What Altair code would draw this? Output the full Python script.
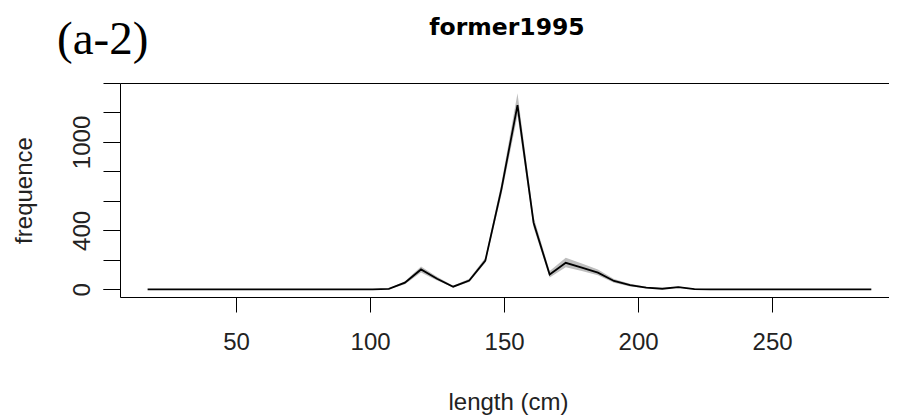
import altair as alt
import pandas as pd

# length classes (cm)
lengths = [17, 23, 29, 35, 41, 47, 53, 59, 65, 71, 77, 83, 89, 95, 101,
           107, 113, 119, 125, 131, 137, 143, 149, 155, 161, 167, 173, 179,
           185, 191, 197, 203, 209, 215, 221, 227, 233, 239, 245, 251, 257,
           263, 269, 275, 281, 287]
freq = [0, 0, 0, 0, 0, 0, 0, 0, 0, 0, 0, 0, 0, 0, 0,
        3, 45, 135, 72, 18, 60, 195, 680, 1250, 452, 100, 180, 147,
        113, 57, 28, 12, 4, 15, 2, 0, 0, 0, 0, 0, 0,
        0, 0, 0, 0, 0]
lower = [0, 0, 0, 0, 0, 0, 0, 0, 0, 0, 0, 0, 0, 0, 0,
         1, 35, 115, 60, 12, 50, 180, 640, 1180, 420, 80, 150, 125,
         95, 45, 20, 7, 2, 10, 0, 0, 0, 0, 0, 0, 0,
         0, 0, 0, 0, 0]
upper = [0, 0, 0, 0, 0, 0, 0, 0, 0, 0, 0, 0, 0, 0, 0,
         5, 55, 155, 85, 25, 72, 215, 720, 1330, 490, 125, 215, 175,
         135, 70, 38, 18, 7, 20, 5, 0, 0, 0, 0, 0, 0,
         0, 0, 0, 0, 0]

x_ticks = [50, 100, 150, 200, 250]
y_ticks = [0, 200, 400, 600, 800, 1000, 1200, 1400]
y_labels_shown = [0, 400, 1000]

df = pd.DataFrame({"length": lengths, "freq": freq, "lower": lower, "upper": upper})

# plot area is cut at the right page edge, as in the reference
x_scale = alt.Scale(domain=[6.7, 293.6], nice=False, zero=False)
y_scale = alt.Scale(domain=[-52, 1400], nice=False, zero=False)

TXT = "#222222"

bottom_axis = alt.Axis(
    orient="bottom", values=x_ticks, grid=False, format="d",
    domain=True, domainColor="black", domainWidth=1,
    tickColor="black", tickSize=15, tickWidth=1,
    labelFont="Liberation Sans", labelFontSize=24, labelColor=TXT,
    labelPadding=18, labelBaseline="top", labelFlush=False, labelOverlap=False,
    title="length (cm)", titleFont="Liberation Sans", titleFontSize=24,
    titleFontWeight="normal", titleColor=TXT,
    titleX=388, titleY=112, titleAlign="center", titleBaseline="alphabetic",
    zindex=1,
)
top_axis = alt.Axis(
    orient="top", grid=False, ticks=False, labels=False,
    domain=True, domainColor="black", domainWidth=1,
    title="former1995", titleFont="DejaVu Sans", titleFontSize=23.5,
    titleFontWeight="bold", titleColor="black",
    titleX=386.5, titleY=-48.7, titleAlign="center", titleBaseline="alphabetic",
    zindex=1,
)
# ticks at every 200, no labels
y_axis_ticks = alt.Axis(
    orient="left", values=y_ticks, grid=False, labels=False,
    domain=True, domainColor="black", domainWidth=1,
    tickColor="black", tickSize=17, tickWidth=1,
    title="frequence", titleFont="Liberation Sans", titleFontSize=24,
    titleFontWeight="normal", titleColor=TXT, titleAngle=270,
    titleX=-96, titleY=107, titleAlign="center", titleBaseline="middle",
    zindex=1,
)
# labels only where R printed them
y_axis_labels = alt.Axis(
    orient="left", values=y_labels_shown, grid=False, domain=False, format="d",
    tickColor="black", tickSize=17, tickWidth=1,
    labelFont="Liberation Sans", labelFontSize=24, labelColor=TXT,
    labelAngle=270, labelAlign="center", labelBaseline="alphabetic",
    labelPadding=14, labelOverlap=False, labelFlush=False,
    title=None, zindex=1,
)

base = alt.Chart(df)

band = base.mark_area(color="#BEBEBE", opacity=1).encode(
    x=alt.X("length:Q", scale=x_scale, axis=bottom_axis),
    y=alt.Y("lower:Q", scale=y_scale, axis=y_axis_ticks),
    y2="upper:Q",
)
line = base.mark_line(color="black", strokeWidth=1.8).encode(
    x=alt.X("length:Q", scale=x_scale, axis=top_axis),
    y=alt.Y("freq:Q", scale=y_scale, axis=y_axis_labels),
)
panel = alt.Chart(alt.InlineData(values=[{"panel": "(a-2)"}])).mark_text(
    font="Liberation Serif", fontSize=47, align="left", baseline="alphabetic",
    color="black",
).encode(text="panel:N", x=alt.value(-63), y=alt.value(-29))

chart = alt.layer(band, line, panel).resolve_axis(
    x="independent", y="independent"
).properties(
    width=769, height=214,
    autosize=alt.AutoSizeParams(type="none"),
    padding={"left": 112, "top": 75, "right": 0, "bottom": 119},
).configure_view(stroke=None).configure(background="white")

chart.save("out.html", embed_options={"renderer": "svg", "actions": False})
